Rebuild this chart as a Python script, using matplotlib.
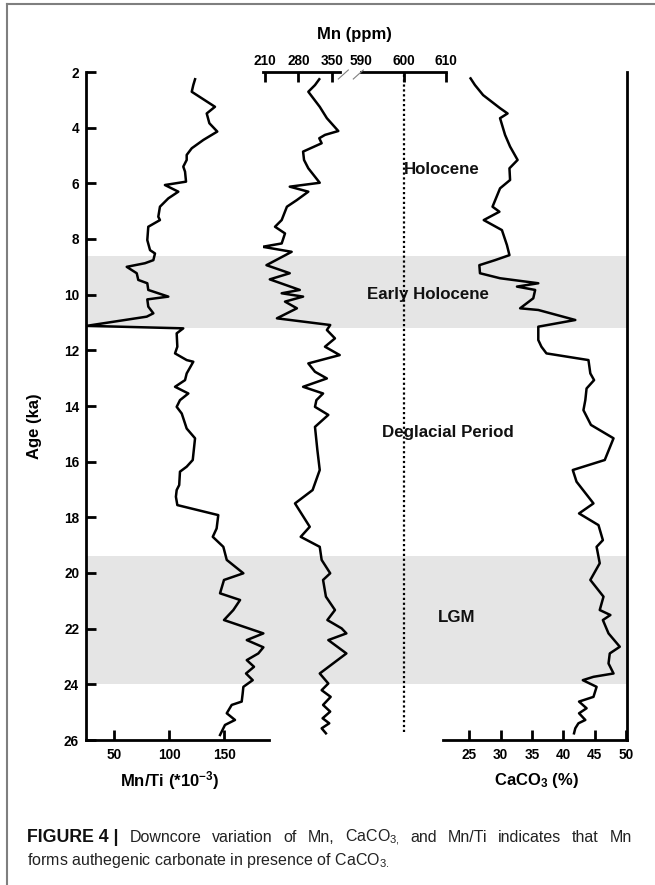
import matplotlib
matplotlib.use("Agg")
import matplotlib.pyplot as plt
from matplotlib.lines import Line2D

plt.rcParams["font.family"] = ["Liberation Sans", "DejaVu Sans"]
plt.rcParams["mathtext.fontset"] = "custom"
plt.rcParams["mathtext.rm"] = "Liberation Sans"
plt.rcParams["mathtext.bf"] = "Liberation Sans:bold"
plt.rcParams["mathtext.it"] = "Liberation Sans:italic"

# ---- data ---------------------------------------------------------------
# Mn/Ti (*10^-3) vs age (ka)
mnti_age = [2.26, 2.47, 2.71, 3.25, 3.49, 3.84, 4.14, 4.44, 4.74, 4.98, 5.16,
            5.40, 5.58, 5.94, 6.06, 6.30, 6.54, 6.84, 7.20, 7.32, 7.56, 8.04,
            8.40, 8.52, 8.76, 8.87, 9.00, 9.23, 9.47, 9.59, 9.83, 10.07, 10.17,
            10.43, 10.67, 10.79, 11.12, 11.21, 11.39, 11.87, 12.11, 12.35,
            12.41, 12.83, 13.07, 13.31, 13.55, 13.79, 14.03, 14.27, 14.81,
            15.16, 15.94, 16.18, 16.36, 16.84, 17.02, 17.26, 17.56, 17.92,
            18.40, 18.70, 19.06, 19.53, 20.01, 20.25, 20.73, 20.97, 21.33,
            21.69, 22.17, 22.41, 22.67, 22.89, 23.13, 23.37, 23.61, 23.85,
            24.09, 24.32, 24.62, 24.74, 25.04, 25.28, 25.46, 25.70, 25.82]
mnti_val = [123.4, 121.8, 120.4, 141.5, 134.0, 136.4, 143.6, 131.0, 120.4,
            115.8, 115.8, 112.7, 114.3, 115.2, 96.0, 108.2, 99.1, 91.5, 90.0,
            91.5, 80.9, 80.0, 82.5, 87.0, 85.5, 77.9, 61.3, 70.4, 71.8, 80.0,
            80.9, 99.1, 80.0, 80.9, 85.5, 79.5, 24.9, 112.7, 106.7, 107.3,
            105.2, 115.8, 121.8, 115.8, 114.3, 105.2, 117.3, 109.7, 106.7,
            111.3, 115.8, 123.4, 121.3, 115.8, 109.7, 109.0, 106.7, 106.0,
            107.3, 144.5, 143.0, 139.5, 149.1, 152.2, 167.3, 149.7, 146.1,
            164.3, 158.2, 149.7, 185.5, 170.4, 185.5, 180.9, 170.4, 177.0,
            169.7, 175.8, 167.3, 166.7, 165.8, 156.7, 152.2, 159.7, 150.6,
            147.6, 146.1]

# Mn (ppm) vs age (ka)
mn_age = [2.26, 2.47, 2.71, 3.25, 3.66, 4.12, 4.26, 4.38, 4.56, 4.86, 5.16,
          5.46, 5.98, 6.12, 6.30, 6.60, 6.84, 7.32, 7.56, 7.80, 8.16, 8.28,
          8.46, 8.94, 9.23, 9.45, 9.83, 9.95, 10.07, 10.25, 10.49, 10.85,
          11.09, 11.27, 11.57, 11.87, 12.17, 12.47, 12.77, 13.01, 13.31,
          13.55, 13.79, 14.03, 14.32, 14.75, 15.58, 16.30, 17.02, 17.50,
          18.34, 18.70, 19.06, 19.53, 20.01, 20.25, 20.85, 21.33, 21.69,
          21.99, 22.17, 22.41, 22.89, 23.61, 23.97, 24.21, 24.45, 24.74,
          24.98, 25.22, 25.40, 25.58, 25.76]
mn_val = [324, 315, 301, 325, 340, 364, 336, 324, 329, 290, 292, 301, 325,
          262, 301, 277, 256, 245, 231, 252, 245, 205, 266, 213, 262, 220,
          283, 245, 290, 252, 277, 235, 347, 340, 357, 336, 367, 301, 315,
          340, 290, 332, 318, 315, 343, 315, 320, 325, 310, 273, 304, 285,
          325, 329, 347, 332, 338, 357, 341, 371, 381, 343, 381, 325, 343,
          329, 348, 332, 347, 331, 345, 329, 338]

# CaCO3 (%) vs age (ka)
caco3_age = [2.23, 2.47, 2.83, 3.30, 3.49, 3.66, 4.26, 4.68, 5.16, 5.46,
             5.88, 6.18, 6.84, 7.02, 7.32, 7.68, 8.22, 8.58, 8.76, 8.94,
             9.23, 9.41, 9.59, 9.71, 9.83, 10.13, 10.49, 10.55, 10.91, 11.15,
             11.63, 11.87, 12.11, 12.35, 12.83, 13.07, 13.37, 13.79, 14.15,
             14.68, 15.16, 15.94, 16.30, 16.72, 17.50, 17.86, 18.28, 18.82,
             19.06, 19.65, 20.25, 20.85, 21.33, 21.51, 21.69, 22.17, 22.65,
             22.89, 23.25, 23.61, 23.73, 23.85, 24.09, 24.45, 24.62, 24.86,
             25.04, 25.28, 25.40, 25.58, 25.76]
caco3_val = [25.2, 25.9, 27.2, 29.9, 31.1, 29.9, 30.7, 31.5, 32.7, 31.4,
             31.5, 29.9, 28.7, 29.8, 27.3, 30.2, 31.0, 31.4, 29.1, 26.6,
             26.7, 29.9, 36.0, 32.6, 35.5, 35.2, 33.1, 36.0, 41.9, 36.0,
             36.0, 36.5, 37.3, 44.0, 44.3, 44.9, 43.7, 43.5, 43.2, 44.4,
             48.0, 46.6, 41.5, 42.1, 44.8, 42.5, 45.6, 46.3, 45.3, 45.8,
             44.3, 46.4, 45.8, 47.5, 46.3, 47.2, 49.0, 47.4, 47.2, 48.0,
             44.8, 43.1, 45.3, 44.8, 42.5, 43.7, 42.5, 43.5, 42.4, 41.9,
             41.7]

# shaded periods (ka)
band_start = [8.6, 19.4]
band_end = [11.2, 24.0]
period_names = ["Holocene", "Early Holocene", "Deglacial Period", "LGM"]
period_age = [5.5, 10.0, 14.95, 21.6]

age_ticks = list(range(2, 27, 2))
mnti_ticks = [50, 100, 150]
mn_ticks_low = [210, 280, 350]
mn_ticks_high = [590, 600, 610]
caco3_ticks = [25, 30, 35, 40, 45, 50]

# ---- layout (pixels of the 655x885 image) ---------------------------------
W, H = 655, 885
TOP, BOT = 72, 740
TICK_FS = 9.8
TITLE_FS = 12


def rect(x0, x1):
    return [x0 / W, 1 - BOT / H, (x1 - x0) / W, (BOT - TOP) / H]


def style_ticks(ax, axis, pad=6):
    ax.tick_params(axis=axis, direction="in", length=7, width=2,
                   labelsize=TICK_FS, pad=pad)
    labels = ax.get_xticklabels() if axis == "x" else ax.get_yticklabels()
    for t in labels:
        t.set_fontweight("bold")


fig = plt.figure(figsize=(W / 100, H / 100), dpi=100)

# background: age axis, shading, period labels
ax0 = fig.add_axes(rect(86, 627))
ax0.set_ylim(26, 2)
ax0.set_xlim(86, 627)
for a, b in zip(band_start, band_end):
    ax0.axhspan(a, b, color="#e5e5e5", lw=0)
period_x = [442, 428, 448, 457]
for name, x, age in zip(period_names, period_x, period_age):
    ax0.text(x, age, name, ha="center", va="center", fontsize=12.2,
             fontweight="bold", color="#111111", zorder=5)
for s in ["top", "bottom"]:
    ax0.spines[s].set_visible(False)
for s in ["left", "right"]:
    ax0.spines[s].set_linewidth(2)
ax0.set_xticks([])
ax0.set_yticks(age_ticks)
style_ticks(ax0, "y", pad=5)
ax0.tick_params(axis="y", right=False)

# Mn/Ti panel
ax1 = fig.add_axes(rect(86, 269), facecolor="none")
ax1.plot(mnti_val, mnti_age, color="black", lw=1.8)
ax1.set_xlim(24.3, 190.6)
ax1.set_ylim(26, 2)
for s in ["top", "left", "right"]:
    ax1.spines[s].set_visible(False)
ax1.spines["bottom"].set_linewidth(2)
ax1.set_yticks([])
ax1.set_xticks(mnti_ticks)
style_ticks(ax1, "x")

# Mn panel (broken top axis)
ax2 = fig.add_axes(rect(262.5, 352), facecolor="none")
ax2.plot(mn_val, mn_age, color="black", lw=1.8)
ax2.set_xlim(204.7, 392.8)
ax2.set_ylim(26, 2)
for s in ["bottom", "left", "right"]:
    ax2.spines[s].set_visible(False)
ax2.spines["top"].set_linewidth(2)
ax2.spines["top"].set_bounds(204.7, 367.6)
ax2.set_yticks([])
ax2.xaxis.tick_top()
ax2.set_xticks(mn_ticks_low)
style_ticks(ax2, "x", pad=3)

ax3 = fig.add_axes(rect(361, 446), facecolor="none")
ax3.set_xlim(590.2, 610)
ax3.set_ylim(26, 2)
ax3.axvline(600, ymin=0.012, ymax=1, color="black", lw=1.6,
            linestyle=(0, (1, 1.2)))
for s in ["bottom", "left", "right"]:
    ax3.spines[s].set_visible(False)
ax3.spines["top"].set_linewidth(2)
ax3.set_yticks([])
ax3.xaxis.tick_top()
ax3.set_xticks(mn_ticks_high)
style_ticks(ax3, "x", pad=3)
ax3.xaxis.get_major_ticks()[0].tick2line.set_visible(False)

# axis-break slashes
for x0 in (338.3, 353.3):
    fig.add_artist(Line2D([x0 / W, (x0 + 10) / W], [1 - 79 / H, 1 - 70 / H],
                          color="#808080", lw=0.8))

# CaCO3 panel
ax4 = fig.add_axes(rect(443.3, 626.7), facecolor="none")
ax4.plot(caco3_val, caco3_age, color="black", lw=1.8)
ax4.set_xlim(20.85, 50.1)
ax4.set_ylim(26, 2)
for s in ["top", "left", "right"]:
    ax4.spines[s].set_visible(False)
ax4.spines["bottom"].set_linewidth(2)
ax4.set_yticks([])
ax4.set_xticks(caco3_ticks)
style_ticks(ax4, "x")

# axis titles
fig.text(34 / W, 1 - 426 / H, "Age (ka)", rotation=90, ha="center",
         va="center", fontsize=TITLE_FS, fontweight="bold")
fig.text(354 / W, 1 - 34 / H, "Mn (ppm)", ha="center", va="center",
         fontsize=TITLE_FS, fontweight="bold")
fig.text(170 / W, 1 - 781 / H, r"Mn/Ti (*10$^{\mathbf{-3}}$)", ha="center",
         va="center", fontsize=TITLE_FS, fontweight="bold")
fig.text(536 / W, 1 - 781 / H, r"CaCO$_{\mathbf{3}}$ (%)", ha="center",
         va="center", fontsize=TITLE_FS, fontweight="bold")

# frame lines of the figure panel
fig.add_artist(Line2D([7 / W, 1], [1 - 4 / H, 1 - 4 / H], color="#7f7f7f",
                      lw=1.5))
fig.add_artist(Line2D([7 / W, 7 / W], [1 - 4 / H, 0], color="#7f7f7f",
                      lw=1.5))

# caption: first line justified between x=27 and x=632
cap_color = "#222222"
CAP_FS = 11.5
line1 = [("FIGURE 4 |", "bold"),
         ("Downcore", "normal"), ("variation", "normal"), ("of", "normal"),
         ("Mn,", "normal"), (r"CaCO$_{3,}$", "normal"), ("and", "normal"),
         ("Mn/Ti", "normal"), ("indicates", "normal"), ("that", "normal"),
         ("Mn", "normal")]
fig.canvas.draw()
renderer = fig.canvas.get_renderer()
words = []
for w, weight in line1:
    fs = 12.8 if weight == "bold" else CAP_FS
    t = fig.text(0, 1 - 838 / H, w, ha="left", va="center", fontsize=fs,
                 fontweight=weight, color="#111111" if weight == "bold"
                 else cap_color)
    words.append(t)
widths = [t.get_window_extent(renderer).width for t in words]
x_start, x_end = 27, 632
gap = (x_end - x_start - sum(widths)) / (len(words) - 1)
x = x_start
for t, wd in zip(words, widths):
    t.set_x(x / W)
    x += wd + gap
fig.text(27 / W, 1 - 861 / H,
         r"forms authegenic carbonate in presence of CaCO$_{3.}$",
         ha="left", va="center", fontsize=CAP_FS, color=cap_color)

fig.savefig("out.png", dpi=100)
